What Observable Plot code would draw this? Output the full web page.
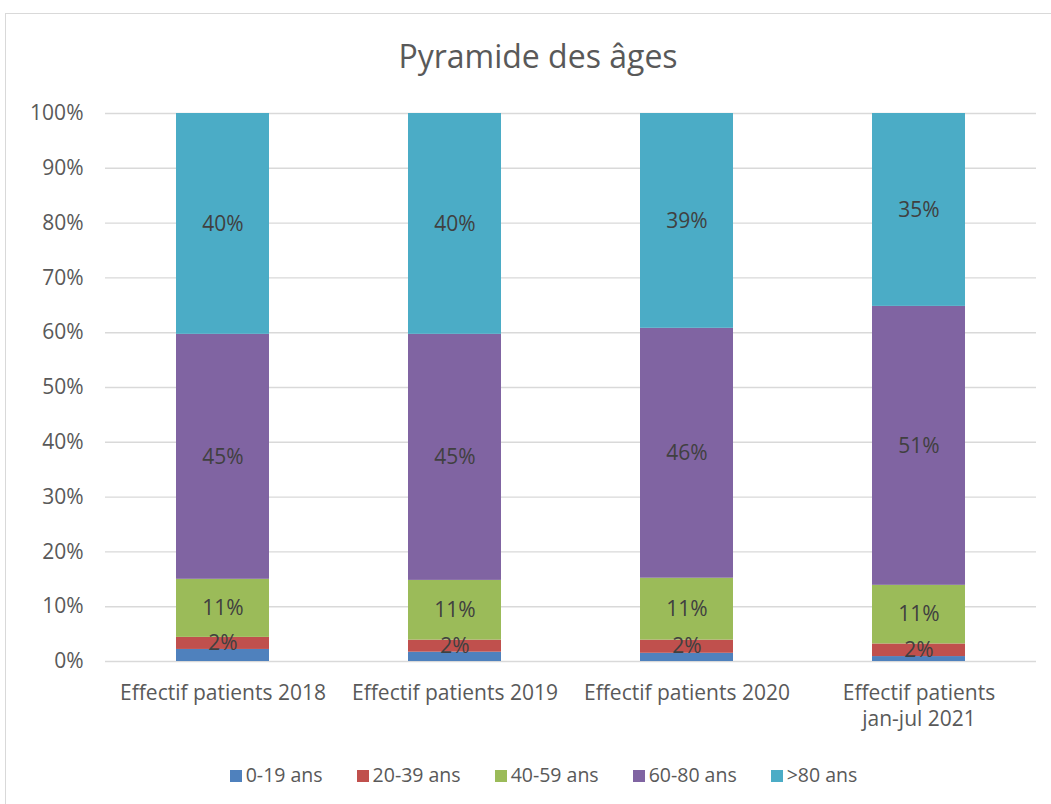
<!DOCTYPE html>
<html>
<head>
<meta charset="utf-8">
<script src="https://cdn.jsdelivr.net/npm/d3@7"></script>
<script src="https://cdn.jsdelivr.net/npm/@observablehq/plot@0.6"></script>
<style>
  body { margin: 0; background: #fff; font-family: "Open Sans", sans-serif; }
  #frame { position: absolute; left: 5px; top: 13px; width: 1060px; height: 800px; border: 1px solid #d9d9d9; box-sizing: border-box; }
  #title { position: absolute; left: 0; width: 1076px; top: 34px; text-align: center; font-size: 32px; color: #595959; }
  #chart { position: absolute; left: 0; top: 0; }
  #legend { position: absolute; top: 761px; left: 0; width: 1087px; text-align: center; font-size: 19.5px; color: #595959; white-space: nowrap; }
  #legend span.item { display: inline-block; margin: 0 17px; }
  #legend span.sw { display: inline-block; width: 12px; height: 12px; margin-right: 4px; vertical-align: 0px; }
</style>
</head>
<body>
<div id="frame"></div>
<div id="title">Pyramide des âges</div>
<div id="chart"></div>
<div id="legend"></div>
<script>
const categories = ["Effectif patients 2018", "Effectif patients 2019", "Effectif patients 2020", "Effectif patients jan-jul 2021"];
const categoryLabels = ["Effectif patients 2018", "Effectif patients 2019", "Effectif patients 2020", "Effectif patients\njan-jul 2021"];
const series = ["0-19 ans", "20-39 ans", "40-59 ans", "60-80 ans", ">80 ans"];
const colors = ["#4F81BD", "#C0504D", "#9BBB59", "#8064A2", "#4BACC6"];
const v0_19  = [2.2, 1.7, 1.5, 0.9];
const v20_39 = [2.2, 2.2, 2.4, 2.3];
const v40_59 = [10.6, 10.9, 11.3, 10.7];
const v60_80 = [44.7, 44.9, 45.6, 50.9];
const v80    = [40.3, 40.3, 39.2, 35.2];
const showLabel = [false, true, true, true, true];
const yTicks = [0, 10, 20, 30, 40, 50, 60, 70, 80, 90, 100];

const valuesBySeries = [v0_19, v20_39, v40_59, v60_80, v80];
const data = [];
series.forEach((s, si) => {
  categories.forEach((c, ci) => {
    data.push({ category: c, series: s, value: valuesBySeries[si][ci], label: showLabel[si] });
  });
});

const labelMap = new Map(categories.map((c, i) => [c, categoryLabels[i]]));

const plot = Plot.plot({
  width: 1051,
  height: 740,
  marginTop: 113,
  marginBottom: 79,
  marginLeft: 105,
  marginRight: 15,
  style: { fontFamily: "'Open Sans', sans-serif", fontSize: "21px", color: "#595959", background: "transparent" },
  x: { domain: categories, paddingInner: 0.6, paddingOuter: 0.3, label: null },
  y: { domain: [0, 100], label: null },
  color: { domain: series, range: colors },
  marks: [
    Plot.gridY(yTicks, { stroke: "#d9d9d9", strokeOpacity: 1, strokeWidth: 1.4 }),
    Plot.barY(data, Plot.stackY({ x: "category", y: "value", fill: "series", z: "series", order: series })),
    Plot.text(data, Plot.stackY({
      x: "category", y: "value", z: "series", order: series,
      text: d => d.label ? Math.round(d.value) + "%" : null,
      fill: "#404040", fontSize: 21
    })),
    Plot.axisY(yTicks, { tickSize: 0, tickPadding: 22, tickFormat: d => d + "%", fontSize: 21, fill: "#595959" }),
    Plot.axisX({ tickSize: 0, tickPadding: 20, tickFormat: d => labelMap.get(d), fontSize: 21, fill: "#595959", lineHeight: 1.25 })
  ]
});
document.getElementById("chart").appendChild(plot);

const legend = document.getElementById("legend");
series.forEach((s, i) => {
  const item = document.createElement("span");
  item.className = "item";
  const sw = document.createElement("span");
  sw.className = "sw";
  sw.style.background = colors[i];
  item.appendChild(sw);
  item.appendChild(document.createTextNode(s));
  legend.appendChild(item);
});
</script>
</body>
</html>
